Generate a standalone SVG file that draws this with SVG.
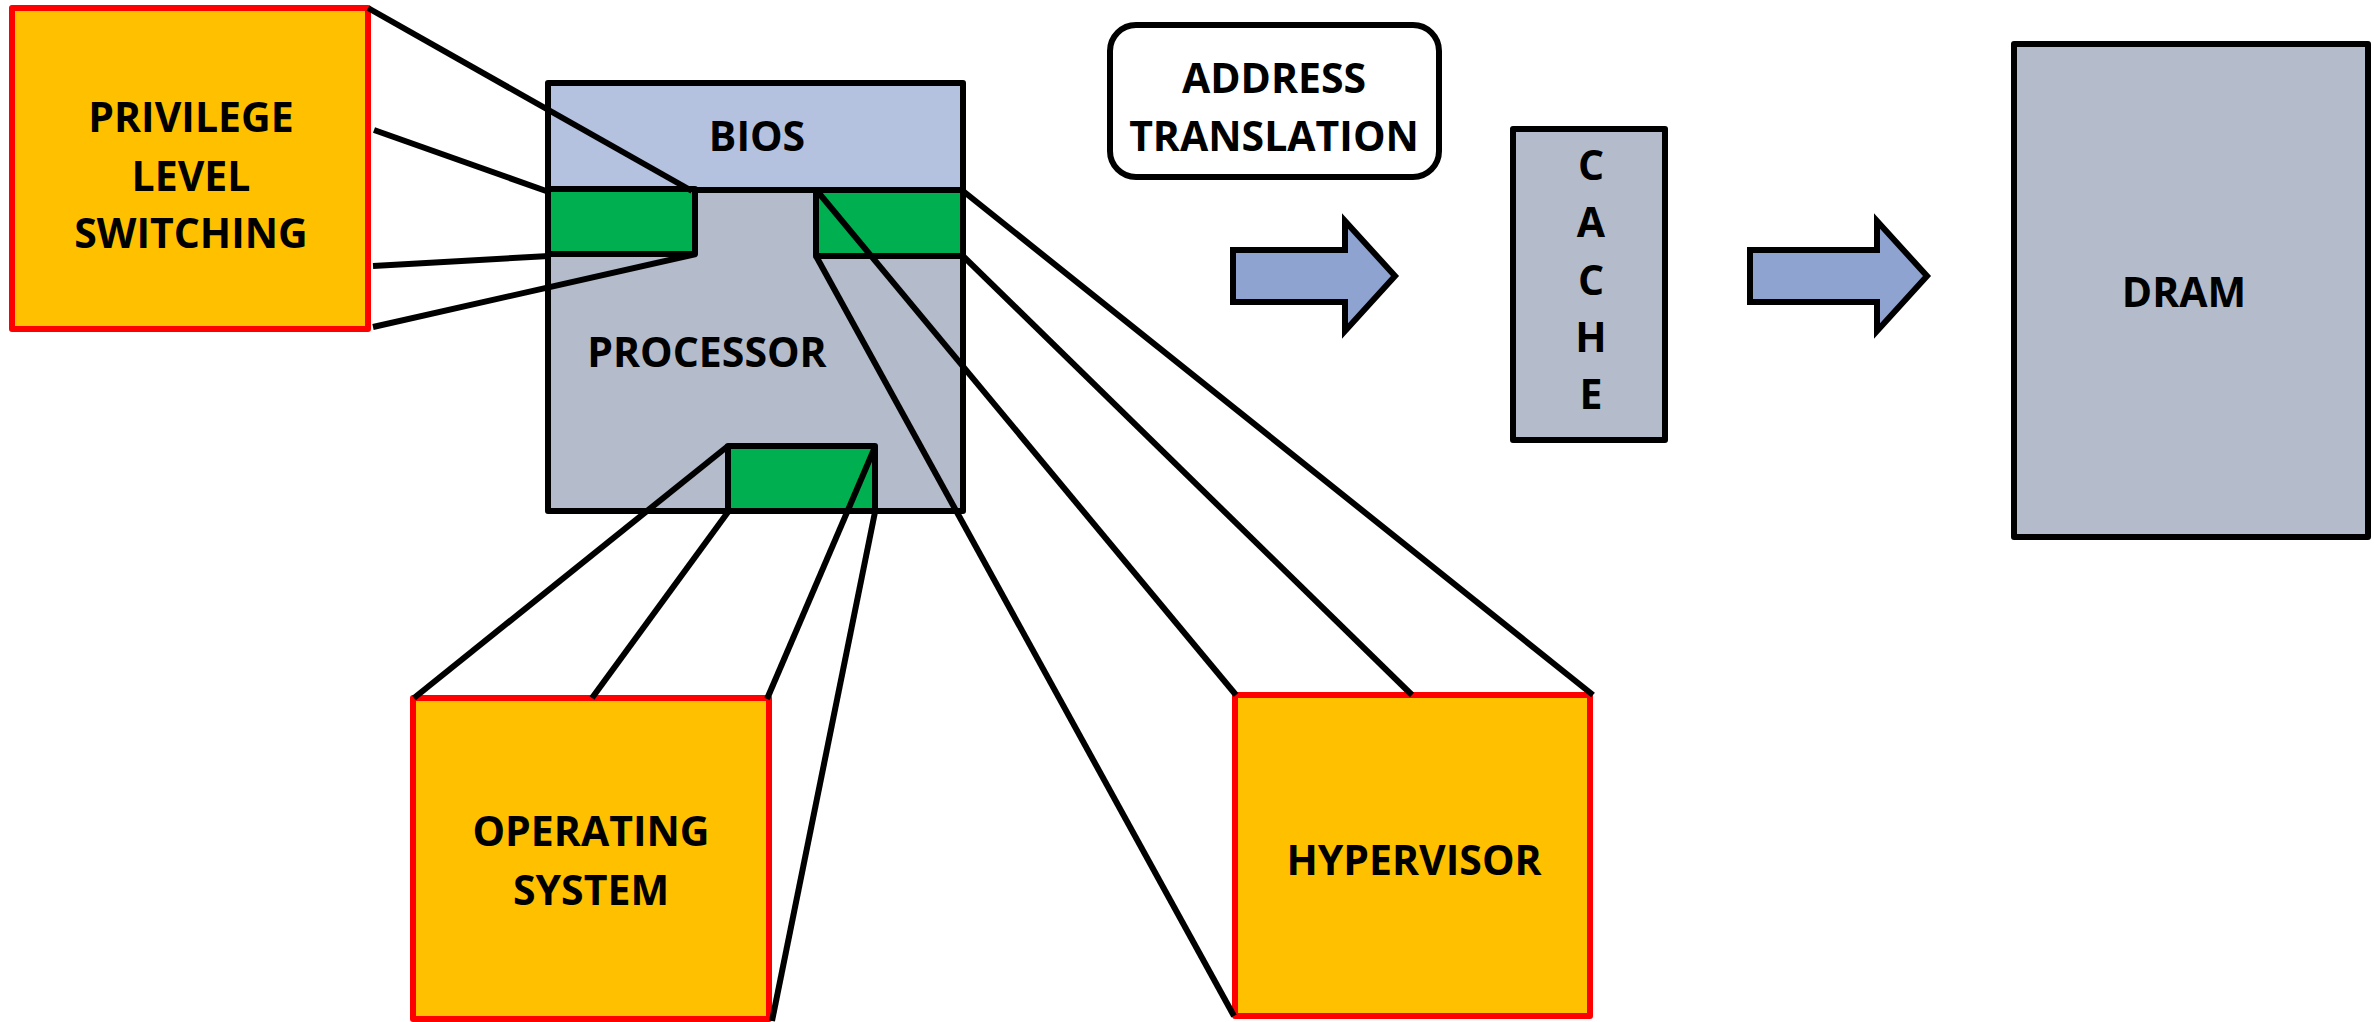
<svg xmlns="http://www.w3.org/2000/svg" width="2374" height="1022" viewBox="0 0 2374 1022">
<style>
.lbl{font-family:"Open Sans","Liberation Sans",sans-serif;font-weight:700;font-size:41px;fill:#000;text-anchor:middle}
.org{fill:#FFC000;stroke:#FF0000;stroke-width:6;stroke-linejoin:round}
.gry{fill:#B4BCCB;stroke:#000;stroke-width:6;stroke-linejoin:round}
.grn{fill:#00B050;stroke:#000;stroke-width:6;stroke-linejoin:round}
.arr{fill:#8FA3D1;stroke:#000;stroke-width:6;stroke-linejoin:miter}
.con line{stroke:#000;stroke-width:6}
</style>
<rect width="2374" height="1022" fill="#fff"/>
<g id="privilege">
<rect class="org" x="12" y="8" width="356" height="321"/>
<text class="lbl" x="191" y="132">PRIVILEGE</text>
<text class="lbl" x="191" y="191">LEVEL</text>
<text class="lbl" x="191" y="248">SWITCHING</text>
</g>
<g id="processor">
<rect class="gry" x="548" y="83" width="415" height="428"/>
<rect x="551" y="86" width="409" height="104" fill="#B4C2E0"/>
<line x1="548" y1="190" x2="963" y2="190" stroke="#000" stroke-width="6"/>
<text class="lbl" x="757" y="151">BIOS</text>
<text class="lbl" x="707" y="367">PROCESSOR</text>
</g>
<g id="green-left"><rect class="grn" x="548" y="189" width="147" height="65"/></g>
<g id="green-right"><rect class="grn" x="816" y="190" width="147" height="66"/></g>
<g id="green-bottom"><rect class="grn" x="728" y="446" width="147" height="65"/></g>
<g id="os">
<rect class="org" x="413" y="698" width="356" height="321"/>
<text class="lbl" x="591" y="846">OPERATING</text>
<text class="lbl" x="591" y="905">SYSTEM</text>
</g>
<g id="hypervisor">
<rect class="org" x="1235" y="695" width="355" height="321"/>
<text class="lbl" x="1414" y="875">HYPERVISOR</text>
</g>
<g id="address">
<rect x="1110" y="25" width="329" height="152" rx="26" ry="26" fill="#fff" stroke="#000" stroke-width="6"/>
<text class="lbl" x="1274" y="93">ADDRESS</text>
<text class="lbl" x="1274" y="151">TRANSLATION</text>
</g>
<g id="arrow1"><path class="arr" d="M1233,250 H1345 V221 L1395,276 L1345,331 V302 H1233 Z"/></g>
<g id="cache">
<rect class="gry" x="1513" y="129" width="152" height="311"/>
<text class="lbl" x="1591" y="180">C</text>
<text class="lbl" x="1591" y="237">A</text>
<text class="lbl" x="1591" y="295">C</text>
<text class="lbl" x="1591" y="352">H</text>
<text class="lbl" x="1591" y="409">E</text>
</g>
<g id="arrow2"><path class="arr" d="M1750,250 H1877 V221 L1927,276 L1877,331 V302 H1750 Z"/></g>
<g id="dram">
<rect class="gry" x="2014" y="44" width="354" height="493"/>
<text class="lbl" x="2184" y="307">DRAM</text>
</g>
<g class="con" id="connectors">
<line x1="368" y1="8" x2="692" y2="191"/>
<line x1="374" y1="130" x2="549" y2="192"/>
<line x1="373" y1="266" x2="549" y2="256"/>
<line x1="373" y1="327" x2="696" y2="254"/>
<line x1="414" y1="698" x2="728" y2="446"/>
<line x1="592" y1="698" x2="728" y2="512"/>
<line x1="767" y1="699" x2="875" y2="447"/>
<line x1="772" y1="1021" x2="875" y2="512"/>
<line x1="818" y1="192" x2="1236" y2="695"/>
<line x1="816" y1="256" x2="1234" y2="1016"/>
<line x1="963" y1="256" x2="1412" y2="695"/>
<line x1="963" y1="191" x2="1593" y2="695"/>
</g>
</svg>
